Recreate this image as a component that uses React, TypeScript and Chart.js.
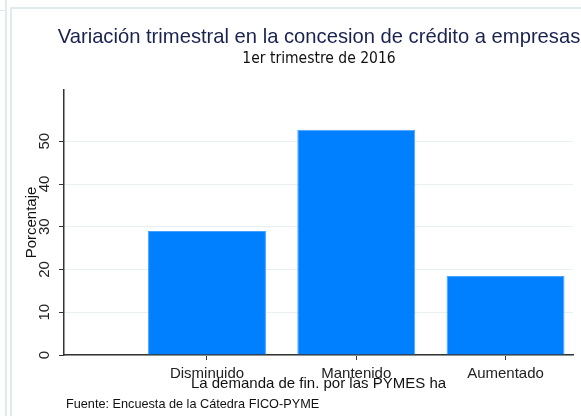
import React, { useEffect, useRef } from "react";
import { Chart, registerables } from "chart.js";

Chart.register(...registerables);

const TITLE = "Variación trimestral en la concesion de crédito a empresas";
const SUBTITLE = "1er trimestre de 2016";
const X_TITLE = "La demanda de fin. por las PYMES ha";
const Y_TITLE = "Porcentaje";
const SOURCE = "Fuente: Encuesta de la Cátedra FICO-PYME";

const categories = ["Disminuido", "Mantenido", "Aumentado"];
const positions = [1, 2, 3];
const values = [29.0, 52.7, 18.5];
const yTicks = [0, 10, 20, 30, 40, 50];

const SANS = "'Liberation Sans', Arial, sans-serif";
const NARROW = "'Liberation Sans Narrow', 'Arial Narrow', 'DejaVu Sans Condensed', sans-serif";

export default function App() {
  const ref = useRef<HTMLCanvasElement | null>(null);

  useEffect(() => {
    if (!ref.current) return;
    const chart = new Chart(ref.current, {
      type: "bar",
      data: {
        datasets: [
          {
            data: positions.map((x, i) => ({ x, y: values[i] })),
            backgroundColor: "#0080ff",
            borderColor: "#45a0ff",
            borderWidth: 1,
            barPercentage: 0.79,
            categoryPercentage: 1,
          },
        ],
      },
      options: {
        responsive: false,
        animation: false,
        devicePixelRatio: 1,
        layout: { padding: { left: 0, right: 0, top: 0, bottom: 21 } },
        plugins: {
          legend: { display: false },
          tooltip: { enabled: false },
          title: {
            display: true,
            text: TITLE,
            color: "#1a2350",
            font: { family: SANS, size: 20.2, weight: "normal", lineHeight: 1.2 },
            padding: { top: 25, bottom: 0 },
          },
          subtitle: {
            display: true,
            text: SUBTITLE,
            color: "#111111",
            font: { family: NARROW, size: 15.5, weight: "normal", lineHeight: 1.3 },
            padding: { top: 0, bottom: 20.6 },
          },
        },
        scales: {
          x: {
            type: "linear",
            min: 0.042,
            max: 3.452,
            offset: false,
            afterBuildTicks: (s: any) => {
              s.ticks = positions.map((v) => ({ value: v }));
            },
            afterFit: (s: any) => {
              s.height = 40;
            },
            grid: {
              drawOnChartArea: false,
              drawTicks: true,
              tickLength: 5,
              tickColor: "#333333",
              offset: false,
            },
            border: { color: "#333333", width: 1.5 },
            ticks: {
              autoSkip: false,
              maxRotation: 0,
              minRotation: 0,
              padding: 5,
              color: "#222222",
              font: { family: SANS, size: 15 },
              callback: (v: any) => {
                const i = positions.indexOf(Number(v));
                return i >= 0 ? categories[i] : "";
              },
            },
            title: {
              display: true,
              text: X_TITLE,
              color: "#111111",
              font: { family: SANS, size: 15, lineHeight: 1.2 },
              padding: { top: 0, bottom: 2 },
            },
          },
          y: {
            min: 0,
            max: 62,
            afterBuildTicks: (s: any) => {
              s.ticks = yTicks.map((v) => ({ value: v }));
            },
            afterFit: (s: any) => {
              s.width = 64;
            },
            grid: {
              color: "#e9f0f2",
              lineWidth: 1,
              tickColor: "#333333",
              tickLength: 5,
            },
            border: { color: "#333333", width: 1.5 },
            ticks: {
              minRotation: 90,
              maxRotation: 90,
              crossAlign: "center",
              padding: 6,
              color: "#222222",
              font: { family: SANS, size: 15 },
            },
            title: {
              display: true,
              text: Y_TITLE,
              color: "#111111",
              font: { family: SANS, size: 15, lineHeight: 1.2 },
              padding: { top: 23, bottom: 0 },
            },
          },
          y2: {
            type: "linear",
            position: "right",
            display: true,
            afterFit: (s: any) => {
              s.width = 65;
            },
            grid: { drawOnChartArea: false, drawTicks: false },
            border: { display: false },
            ticks: { display: false },
          },
        },
      } as any,
    });
    return () => chart.destroy();
  }, []);

  const line = "#e1eaed";
  return (
    <div
      style={{
        position: "fixed",
        left: 0,
        top: 0,
        width: 581,
        height: 416,
        overflow: "hidden",
        background: "#ffffff",
      }}
    >
      <div style={{ position: "absolute", left: 5, top: 0, width: 2, height: 416, background: line }} />
      <div style={{ position: "absolute", left: 0, top: 10, width: 6, height: 1, background: line }} />
      <div style={{ position: "absolute", left: 10, top: 7, width: 2, height: 409, background: line }} />
      <div style={{ position: "absolute", left: 10, top: 7, width: 571, height: 2, background: line }} />
      <canvas
        ref={ref}
        width={638}
        height={416}
        style={{ position: "absolute", left: 0, top: 0, width: 638, height: 416 }}
      />
      <div
        style={{
          position: "absolute",
          left: 66,
          top: 397,
          fontFamily: SANS,
          fontSize: "12.7px",
          lineHeight: "14px",
          color: "#111111",
          whiteSpace: "nowrap",
        }}
      >
        {SOURCE}
      </div>
    </div>
  );
}
